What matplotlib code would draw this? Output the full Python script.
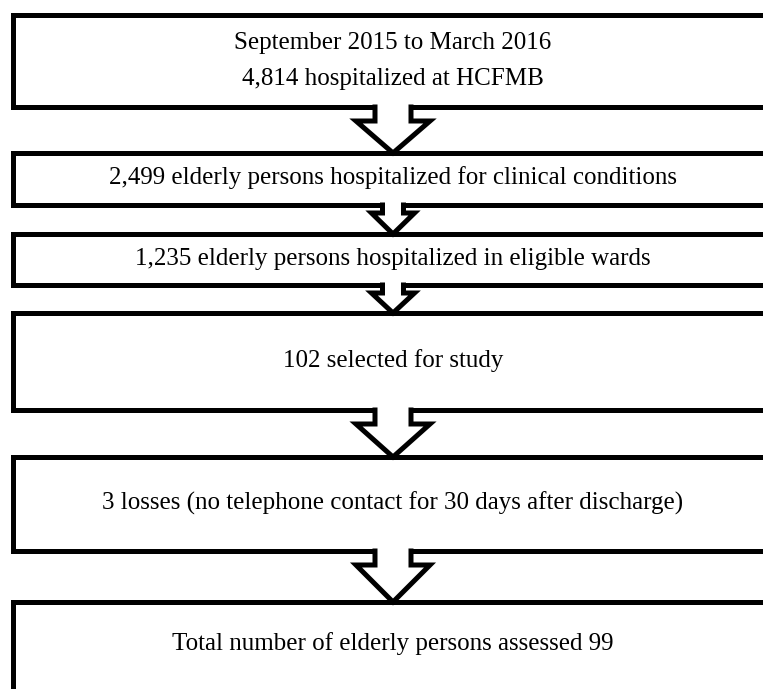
import matplotlib.pyplot as plt
from matplotlib.patches import Polygon

# flowchart text, top to bottom
labels = [
    "September 2015 to March 2016\n4,814 hospitalized at HCFMB",
    "2,499 elderly persons hospitalized for clinical conditions",
    "1,235 elderly persons hospitalized in eligible wards",
    "102 selected for study",
    "3 losses (no telephone contact for 30 days after discharge)",
    "Total number of elderly persons assessed 99",
]

# box extents in pixels (top, bottom)
tops = [15, 153, 234, 313, 457, 602]
bottoms = [107, 205, 285, 410, 551, 760]
big_arrow = [True, False, False, True, True]

W, H = 763, 689
LW = 3.6
FS = 18
fig = plt.figure(figsize=(W / 100, H / 100), dpi=100)
ax = fig.add_axes([0, 0, 1, 1])
ax.set_xlim(0, W)
ax.set_ylim(H, 0)
ax.axis('off')

x0, x1 = 12.5, 820
cx = 393

for i, lab in enumerate(labels):
    t, b = tops[i], bottoms[i]
    ax.add_patch(Polygon([(x0, t), (x1, t), (x1, b), (x0, b)], closed=True,
                         facecolor='white', edgecolor='black', lw=LW,
                         joinstyle='miter', zorder=1))
    if i == 0:
        line1, line2 = lab.split('\n')
        ax.text(cx, 43, line1, ha='center', va='center',
                fontsize=FS, family='Liberation Serif', zorder=5)
        ax.text(cx, 79, line2, ha='center', va='center',
                fontsize=FS, family='Liberation Serif', zorder=5)
    else:
        ym = (t + b) / 2 if i < 5 else t + 43
        ax.text(cx, ym - 1, lab, ha='center', va='center', fontsize=FS,
                family='Liberation Serif', zorder=5)

# block arrows between boxes
for i, big in enumerate(big_arrow):
    b = bottoms[i]
    tip = tops[i + 1]
    if big:
        sw, hw, notch = 18, 37, 14
    else:
        sw, hw, notch = 10.5, 21.5, 8
    ny = b + notch
    fill = [(cx - sw, b - 4), (cx - sw, ny), (cx - hw, ny), (cx, tip),
            (cx + hw, ny), (cx + sw, ny), (cx + sw, b - 4)]
    ax.add_patch(Polygon(fill, closed=True, facecolor='white',
                         edgecolor='none', zorder=3))
    xs = [cx - sw, cx - sw, cx - hw, cx, cx + hw, cx + sw, cx + sw]
    ys = [b, ny, ny, tip, ny, ny, b]
    ax.plot(xs, ys, color='black', lw=LW, solid_joinstyle='miter', zorder=4)

fig.savefig('out.png', dpi=100)
